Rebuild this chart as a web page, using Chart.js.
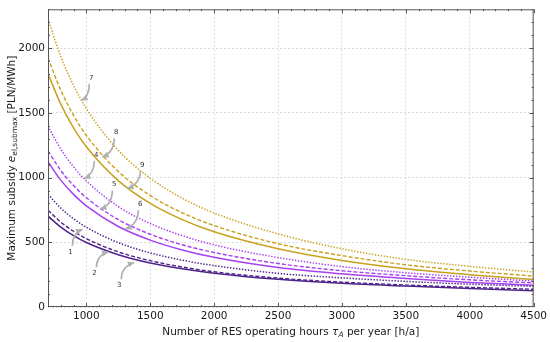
<!DOCTYPE html>
<html>
<head>
<meta charset="utf-8">
<script src="https://cdn.jsdelivr.net/npm/chart.js@4"></script>
<style>
  html, body { margin: 0; padding: 0; background: #fff; }
  #wrap { width: 550px; height: 342px; position: relative; }
</style>
</head>
<body>
<div id="wrap"><canvas id="subsidyChart"></canvas></div>
<script>
// operating hours
const hours = [700, 800, 900, 1000, 1250, 1500, 1750, 2000, 2500, 3000, 3500, 4000, 4500];

// maximum subsidy [PLN/MWh], one array per curve
const darkSolid    = [702, 617, 551, 498, 404, 340, 295, 261, 214, 183, 162, 143, 125];
const darkDashed   = [748, 656, 585, 528, 426, 358, 309, 272, 223, 192, 170, 152, 137];
const darkDotted   = [870, 764, 682, 616, 497, 418, 362, 320, 260, 225, 198, 176, 160];
const violetSolid  = [1122, 980, 870, 781, 622, 517, 441, 384, 305, 256, 220, 190, 168];
const violetDashed = [1206, 1055, 938, 844, 675, 562, 481, 421, 336, 280, 242, 210, 186];
const violetDotted = [1397, 1220, 1083, 974, 776, 645, 551, 480, 382, 312, 265, 230, 200];
const goldSolid    = [1802, 1567, 1384, 1238, 976, 800, 675, 581, 450, 360, 296, 250, 212];
const goldDashed   = [1924, 1675, 1481, 1326, 1047, 861, 728, 629, 489, 397, 326, 278, 239];
const goldDotted   = [2225, 1935, 1712, 1533, 1210, 995, 841, 726, 565, 450, 368, 314, 270];

const xTicks = [1000, 1500, 2000, 2500, 3000, 3500, 4000, 4500];
const yTicks = [0, 500, 1000, 1500, 2000];

// numbered callouts: label, text position, arrow tip (data units)
const noteLabels = ["1", "2", "3", "4", "5", "6", "7", "8", "9"];
const noteText = [[875, 427], [1063, 260], [1258, 168], [1078, 1176], [1219, 947], [1422, 794], [1039, 1771], [1234, 1351], [1438, 1099]];
const noteTip  = [[969, 600], [1172, 427], [1375, 344], [984, 992], [1109, 756], [1305, 603], [961, 1595], [1125, 1160], [1320, 916]];

const DARK = "#4e2489";
const VIOLET = "#a640f2";
const GOLD = "#c9a01c";
const FONT = "'DejaVu Sans', sans-serif";

function series(values, color, dash, width) {
    return {
        data: hours.map((h, i) => ({ x: h, y: values[i] })),
        borderColor: color,
        borderWidth: width,
        borderDash: dash,
        pointRadius: 0,
        fill: false,
        cubicInterpolationMode: "monotone"
    };
}

// draws a label made of normal / italic / subscript pieces, centred on (x, y)
function drawRich(ctx, parts, x, y, rotate) {
    ctx.save();
    ctx.translate(x, y);
    if (rotate) ctx.rotate(-Math.PI / 2);
    let total = 0;
    parts.forEach(p => {
        ctx.font = (p.italic ? "italic " : "") + (p.sub ? 7.5 : 10.5) + "px " + FONT;
        p.w = ctx.measureText(p.t).width;
        total += p.w;
    });
    let cx = -total / 2;
    ctx.fillStyle = "#1a1a1a";
    ctx.textBaseline = "middle";
    ctx.textAlign = "left";
    parts.forEach(p => {
        ctx.font = (p.italic ? "italic " : "") + (p.sub ? 7.5 : 10.5) + "px " + FONT;
        ctx.fillText(p.t, cx, p.sub ? 3 : 0);
        cx += p.w;
    });
    ctx.restore();
}

const framePlugin = {
    id: "frame",
    afterDatasetsDraw(chart) {
        const ctx = chart.ctx;
        const a = chart.chartArea;
        const xs = chart.scales.x;
        const ys = chart.scales.y;

        // callout arrows
        ctx.save();
        noteLabels.forEach((lab, i) => {
            const tx = xs.getPixelForValue(noteText[i][0]);
            const ty = ys.getPixelForValue(noteText[i][1]);
            const px = xs.getPixelForValue(noteTip[i][0]);
            const py = ys.getPixelForValue(noteTip[i][1]);
            const dir = py > ty ? 1 : -1;
            const sx = tx + (px > tx ? 2 : -2);
            const sy = ty + dir * 6;
            const cx = sx;
            const cy = sy + 0.75 * (py - sy);
            ctx.strokeStyle = "#b0b0b0";
            ctx.fillStyle = "#b0b0b0";
            ctx.lineWidth = 1.7;
            ctx.beginPath();
            ctx.moveTo(sx, sy);
            ctx.quadraticCurveTo(cx, cy, px, py);
            ctx.stroke();
            const ang = Math.atan2(py - cy, px - cx);
            ctx.beginPath();
            ctx.moveTo(px, py);
            ctx.lineTo(px - 7 * Math.cos(ang - 0.45), py - 7 * Math.sin(ang - 0.45));
            ctx.lineTo(px - 7 * Math.cos(ang + 0.45), py - 7 * Math.sin(ang + 0.45));
            ctx.closePath();
            ctx.fill();
            ctx.fillStyle = "#333";
            ctx.font = "7px " + FONT;
            ctx.textAlign = "center";
            ctx.textBaseline = "middle";
            ctx.fillText(lab, tx, ty);
        });
        ctx.restore();

        // frame and inward ticks
        ctx.save();
        ctx.strokeStyle = "#555";
        ctx.lineWidth = 1;
        ctx.strokeRect(a.left + 0.5, a.top + 0.5, a.right - a.left - 1, a.bottom - a.top - 1);
        ctx.beginPath();
        for (let v = 800; v <= 4500; v += 100) {
            const x = Math.round(xs.getPixelForValue(v)) + 0.5;
            const len = v % 500 === 0 ? 4 : 2;
            ctx.moveTo(x, a.bottom); ctx.lineTo(x, a.bottom - len);
            ctx.moveTo(x, a.top); ctx.lineTo(x, a.top + len);
        }
        for (let v = 100; v <= 2300; v += 100) {
            const y = Math.round(ys.getPixelForValue(v)) + 0.5;
            const len = v % 500 === 0 ? 4 : 2;
            ctx.moveTo(a.left, y); ctx.lineTo(a.left + len, y);
            ctx.moveTo(a.right, y); ctx.lineTo(a.right - len, y);
        }
        ctx.stroke();
        ctx.restore();

        // axis titles
        drawRich(ctx, [
            { t: "Number of RES operating hours " },
            { t: "τ", italic: true },
            { t: "A", italic: true, sub: true },
            { t: " per year [h/a]" }
        ], (a.left + a.right) / 2, 332, false);
        drawRich(ctx, [
            { t: "Maximum subsidy " },
            { t: "e", italic: true },
            { t: "el,submax", sub: true },
            { t: " [PLN/MWh]" }
        ], 12, (a.top + a.bottom) / 2, true);
    }
};

new Chart(document.getElementById("subsidyChart"), {
    type: "line",
    data: {
        datasets: [
            series(darkSolid, DARK, [], 1.5),
            series(darkDashed, DARK, [4, 2], 1.4),
            series(darkDotted, DARK, [1.4, 1.6], 1.5),
            series(violetSolid, VIOLET, [], 1.5),
            series(violetDashed, VIOLET, [4, 2], 1.4),
            series(violetDotted, VIOLET, [1.4, 1.6], 1.5),
            series(goldSolid, GOLD, [], 1.5),
            series(goldDashed, GOLD, [4, 2], 1.4),
            series(goldDotted, GOLD, [1.4, 1.6], 1.5)
        ]
    },
    options: {
        responsive: true,
        maintainAspectRatio: false,
        animation: false,
        layout: { padding: { top: 6, right: 14, left: 0, bottom: 0 } },
        plugins: {
            legend: { display: false },
            tooltip: { enabled: false }
        },
        scales: {
            x: {
                type: "linear",
                min: 700,
                max: 4500,
                afterBuildTicks: s => { s.ticks = xTicks.map(v => ({ value: v })); },
                afterFit: s => { s.height = 35; },
                grid: { color: "#d4d4d4", drawTicks: false, lineWidth: 0.8 },
                border: { display: false, dash: [2, 2] },
                ticks: {
                    padding: 3, color: "#1a1a1a", maxRotation: 0,
                    font: { family: FONT, size: 10.5 },
                    callback: v => String(v)
                }
            },
            y: {
                type: "linear",
                min: 0,
                max: 2300,
                afterBuildTicks: s => { s.ticks = yTicks.map(v => ({ value: v })); },
                afterFit: s => { s.width = 48; },
                grid: { color: "#d4d4d4", drawTicks: false, lineWidth: 0.8 },
                border: { display: false, dash: [2, 2] },
                ticks: {
                    padding: 3, color: "#1a1a1a",
                    font: { family: FONT, size: 10.5 },
                    callback: v => String(v)
                }
            }
        }
    },
    plugins: [framePlugin]
});
</script>
</body>
</html>
